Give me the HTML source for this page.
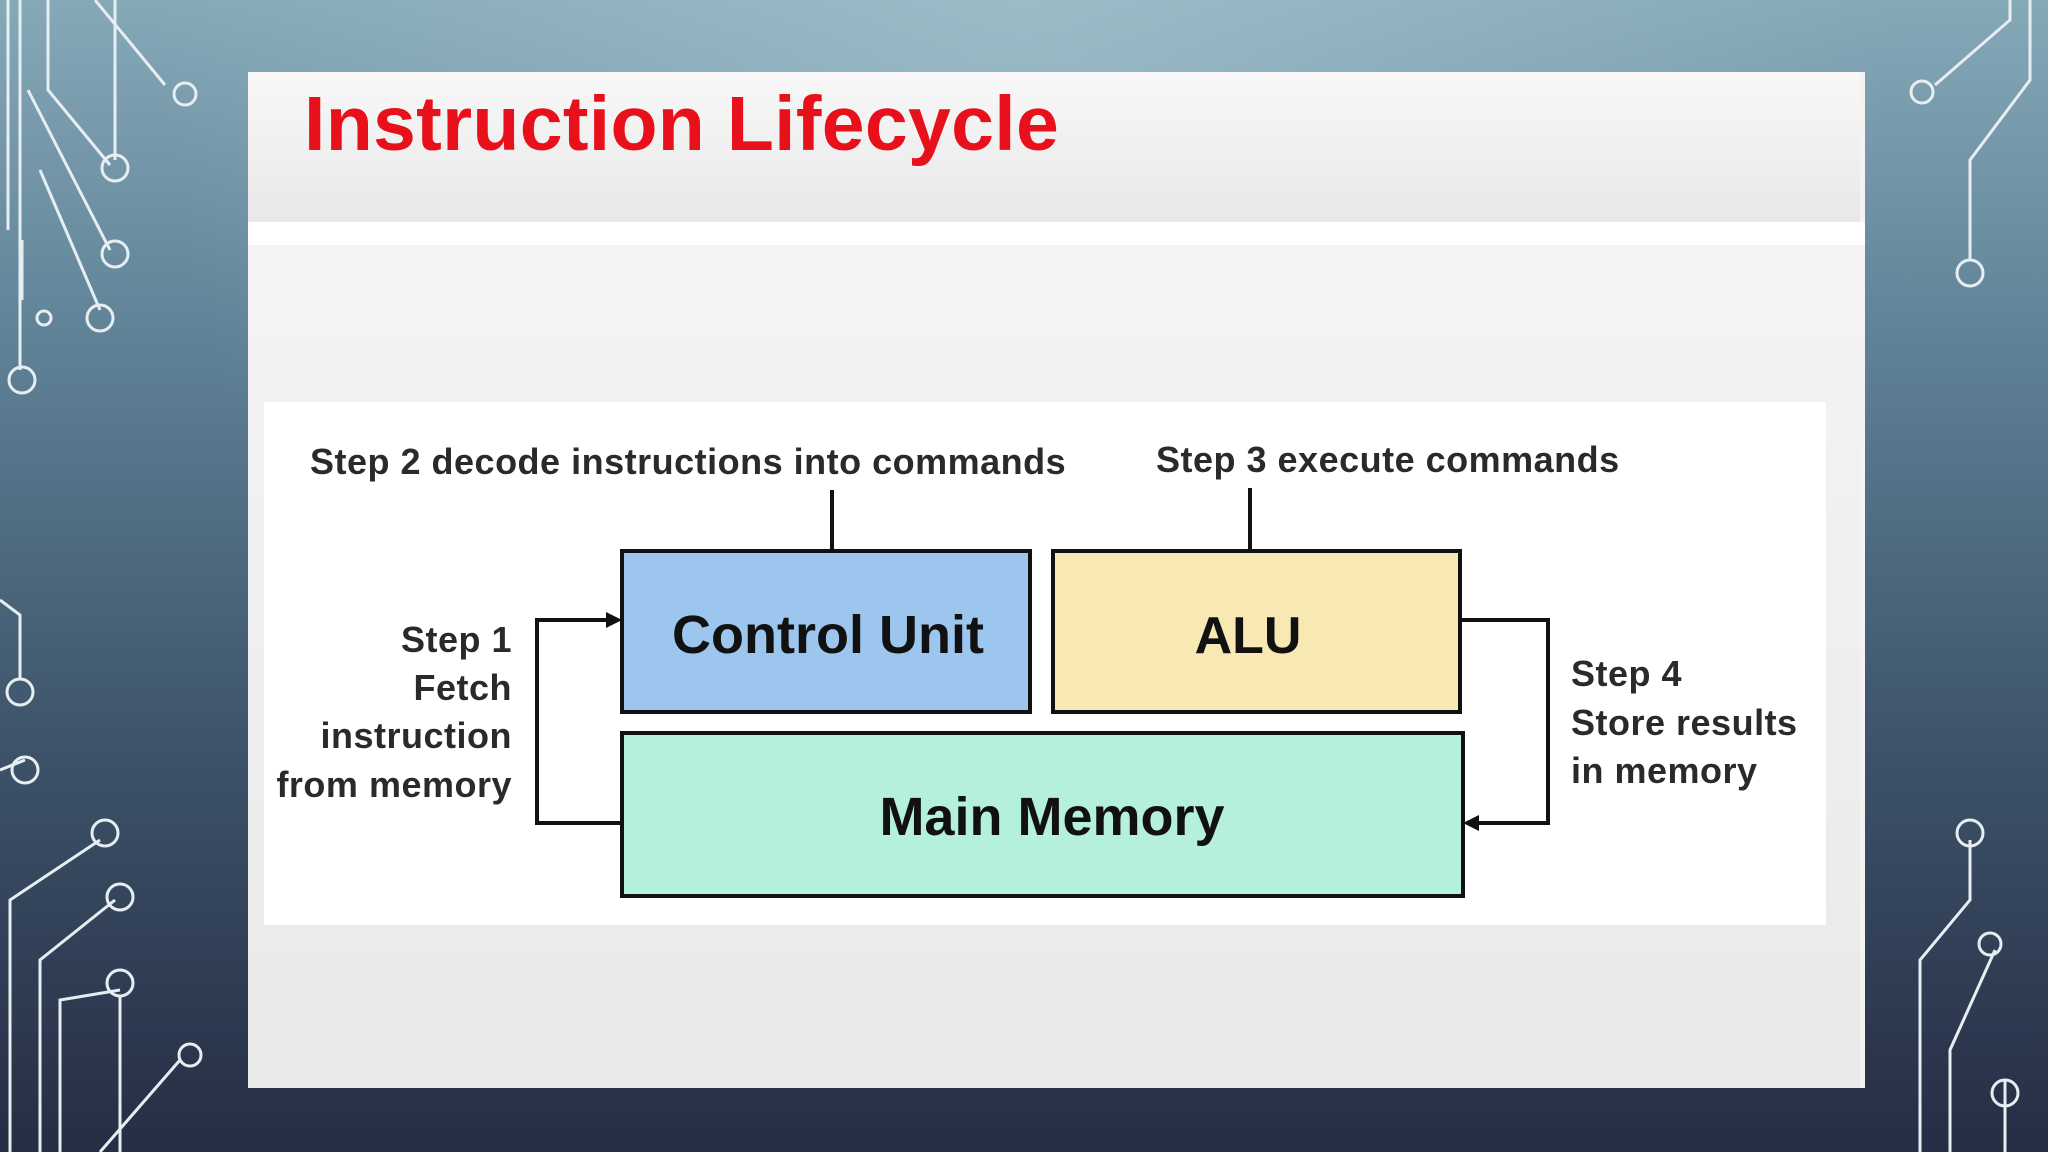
<!DOCTYPE html>
<html><head><meta charset="utf-8"><style>
body{margin:0;width:2048px;height:1152px;overflow:hidden;font-family:"Liberation Sans",sans-serif;
background:radial-gradient(ellipse at 50% 0%,rgba(170,200,210,0.6) 0%,rgba(0,0,0,0) 60%),linear-gradient(#86a9b8 0%,#5f8196 30%,#3d5369 65%,#252d44 100%);position:relative}
.abs{position:absolute}
</style></head><body>
<svg class="abs" style="left:0;top:0" width="2048" height="1152" fill="none" stroke="#e6eef2" stroke-width="3">
<path d="M20 0V370M48 0V90L110 165M95 0L165 85M115 0V160M8 0V230M28 90L110 250M40 170L100 310M22 240V300"/>
<circle cx="185" cy="94" r="11"/><circle cx="115" cy="168" r="13"/><circle cx="115" cy="254" r="13"/><circle cx="100" cy="318" r="13"/><circle cx="22" cy="380" r="13"/><circle cx="44" cy="318" r="7"/>
<path d="M0 600L20 615V680M0 770L25 760M10 1152V900L100 840M40 1152V960L115 900M60 1152V1000L120 990M100 1152L180 1060M120 1152V995"/>
<circle cx="20" cy="692" r="13"/><circle cx="25" cy="770" r="13"/><circle cx="105" cy="833" r="13"/><circle cx="120" cy="897" r="13"/><circle cx="120" cy="983" r="13"/><circle cx="190" cy="1055" r="11"/>
<path d="M1935 85L2010 20V0M2030 0V80L1970 160V260M1970 840V900L1920 960V1152M1995 950L1950 1050V1152M2005 1080V1152"/>
<circle cx="1922" cy="92" r="11"/><circle cx="1970" cy="273" r="13"/><circle cx="1970" cy="833" r="13"/><circle cx="1990" cy="944" r="11"/><circle cx="2005" cy="1093" r="13"/>
</svg>
<div class="abs" style="left:248px;top:72px;width:1617px;height:1016px;background:#f3f3f3"></div>
<div class="abs" style="left:248px;top:72px;width:1612px;height:150px;background:linear-gradient(#f8f8f8,#e8e8e8)"></div>
<div class="abs" style="left:248px;top:222px;width:1617px;height:23px;background:#fff"></div>
<div class="abs" style="left:248px;top:245px;width:1612px;height:843px;background:linear-gradient(#f4f4f4,#e9e9e9)"></div>
<div class="abs" style="left:304px;top:80px;font-size:77px;font-weight:bold;color:#e8101a;letter-spacing:0.3px">Instruction Lifecycle</div>
<div class="abs" style="left:264px;top:402px;width:1562px;height:523px;background:#fff"></div>
<svg class="abs" style="left:0;top:0" width="2048" height="1152">
<g stroke="#111" stroke-width="4" fill="none">
<rect x="622" y="551" width="408" height="161" fill="#9cc6ee"/>
<rect x="1053" y="551" width="407" height="161" fill="#f7e8b4"/>
<rect x="622" y="733" width="841" height="163" fill="#b5f0da"/>
<path d="M832 490V551M1250 488V551M622 823H537V620H608M1460 620H1548V823H1477"/>
</g>
<path d="M622 620L606 612V628Z M1463 823L1479 815V831Z" fill="#111"/>
<g font-family="Liberation Sans,sans-serif" font-weight="bold" fill="#111" text-anchor="middle">
<text x="828" y="653" font-size="54">Control Unit</text>
<text x="1248" y="653" font-size="52">ALU</text>
<text x="1052" y="835" font-size="54">Main Memory</text>
</g>
<g font-family="Liberation Sans,sans-serif" font-size="36" font-weight="bold" fill="#2a2a2a" letter-spacing="0.5">
<text x="310" y="474">Step 2 decode instructions into commands</text>
<text x="1156" y="472">Step 3 execute commands</text>
<g text-anchor="end"><text x="512" y="652">Step 1</text><text x="512" y="700">Fetch</text><text x="512" y="748">instruction</text><text x="512" y="797">from memory</text></g>
<text x="1571" y="686">Step 4</text><text x="1571" y="735">Store results</text><text x="1571" y="783">in memory</text>
</g>
</svg>
</body></html>
